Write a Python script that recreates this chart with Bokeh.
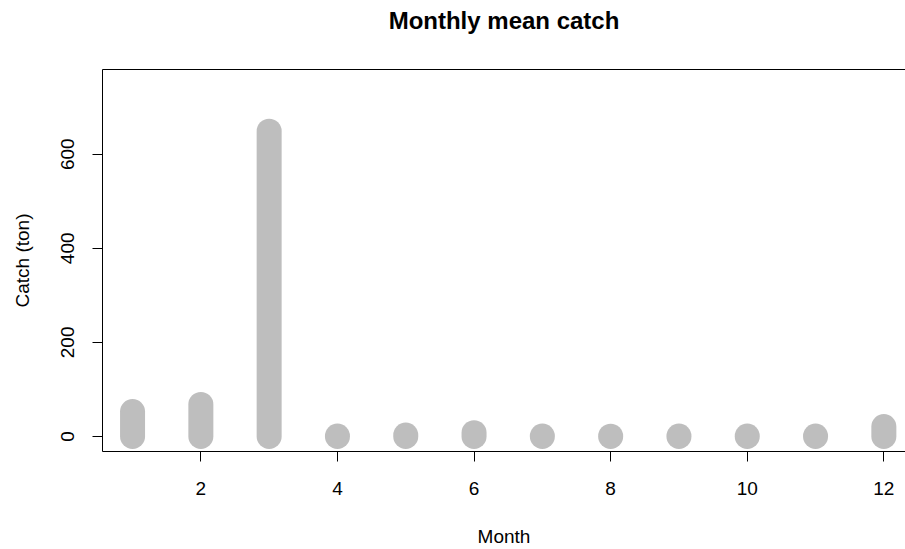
from bokeh.plotting import figure
from bokeh.models import LinearAxis, FixedTicker, Range1d
from bokeh.embed import file_html
from bokeh.resources import INLINE

months = [1, 2, 3, 4, 5, 6, 7, 8, 9, 10, 11, 12]
catch = [53, 68, 649, 1, 3, 8, 1, 0.5, 1, 1, 1, 21]
x_ticks = [2, 4, 6, 8, 10, 12]
y_ticks = [0, 200, 400, 600]
title_text = "Monthly mean catch"
x_label = "Month"
y_label = "Catch (ton)"

FONT = "Liberation Sans"

p = figure(width=905, height=549, output_backend="svg", toolbar_location=None,
           title=None,
           x_range=Range1d(0.56, 12.317), y_range=Range1d(-32, 780),
           min_border_left=102, min_border_right=0, min_border_top=69, min_border_bottom=98,
           x_axis_type=None, y_axis_type=None)
p.outline_line_color = None
p.xgrid.visible = False
p.ygrid.visible = False
p.background_fill_color = "white"
p.border_fill_color = "white"

p.segment(x0=months, y0=[0] * len(months), x1=months, y1=catch,
          line_color="#BEBEBE", line_width=25, line_cap="round")

def style_axis(ax):
    ax.axis_line_color = "black"
    ax.axis_line_width = 1
    ax.major_tick_line_color = "black"
    ax.major_tick_out = 10
    ax.major_tick_in = 0
    ax.minor_tick_line_color = None
    ax.major_label_text_font = FONT
    ax.major_label_text_font_size = "19px"
    ax.major_label_text_color = "black"
    ax.axis_label_text_font = FONT
    ax.axis_label_text_font_size = "19px"
    ax.axis_label_text_font_style = "normal"
    ax.axis_label_text_color = "black"

xa = LinearAxis(ticker=FixedTicker(ticks=x_ticks), axis_label=x_label)
style_axis(xa)
xa.major_label_standoff = 20
xa.axis_label_standoff = 28
p.add_layout(xa, "below")

ya = LinearAxis(ticker=FixedTicker(ticks=y_ticks), axis_label=y_label)
style_axis(ya)
ya.major_label_orientation = "vertical"
ya.major_label_standoff = 18
ya.axis_label_standoff = 26
p.add_layout(ya, "left")

# top frame line, carrying the chart title as its label
ta = LinearAxis(ticker=FixedTicker(ticks=[]), axis_label=title_text)
ta.axis_line_color = "black"
ta.major_label_text_font_size = "0px"
ta.major_label_standoff = 0
ta.major_tick_out = 0
ta.major_tick_in = 0
ta.major_tick_line_color = None
ta.minor_tick_line_color = None
ta.axis_label_text_font = FONT
ta.axis_label_text_font_size = "24px"
ta.axis_label_text_font_style = "bold"
ta.axis_label_text_color = "black"
ta.axis_label_standoff = 36
p.add_layout(ta, "above")

open("out.html", "w").write(file_html(p, INLINE))
